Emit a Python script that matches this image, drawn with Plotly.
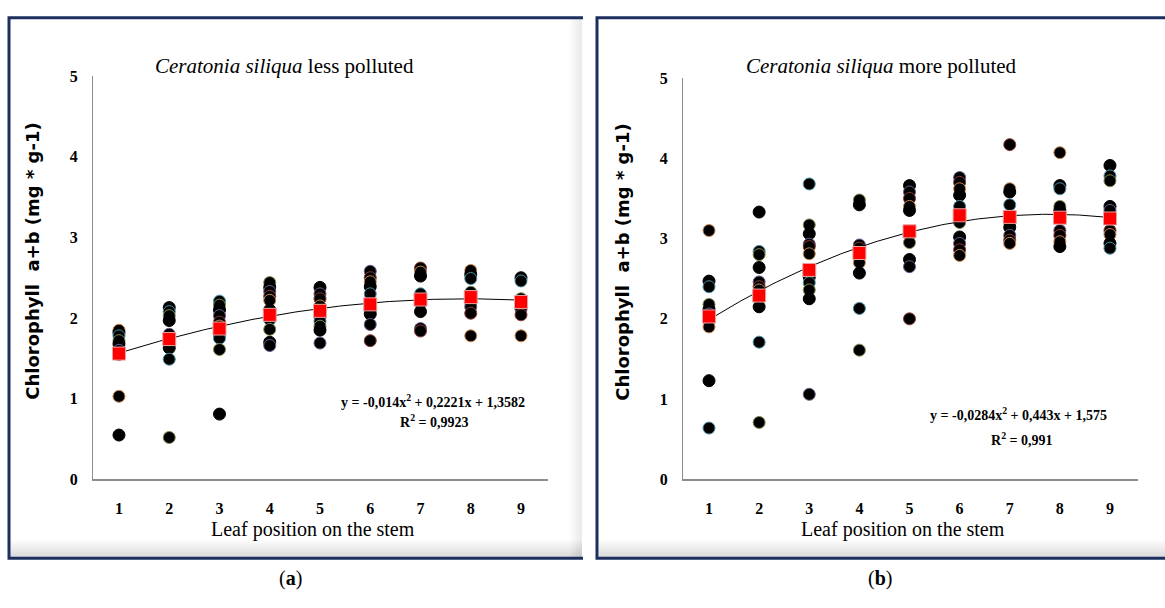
import plotly.graph_objects as go
import numpy as np

W, H = 1165, 608

# ---------------- data ----------------
leaf_positions = [1, 2, 3, 4, 5, 6, 7, 8, 9]

less_polluted_points = [
    [1.85, 1.82, 1.78, 1.72, 1.68, 1.60, 1.55, 1.03, 0.55],
    [2.13, 2.08, 2.03, 1.97, 1.80, 1.75, 1.68, 1.63, 1.49, 0.52],
    [2.21, 2.16, 2.10, 2.03, 1.95, 1.90, 1.80, 1.75, 1.61, 0.81],
    [2.44, 2.38, 2.33, 2.27, 2.22, 2.10, 1.98, 1.86, 1.70, 1.66],
    [2.38, 2.30, 2.24, 2.15, 2.02, 1.96, 1.90, 1.85, 1.69],
    [2.58, 2.50, 2.45, 2.39, 2.30, 2.10, 2.05, 1.92, 1.72],
    [2.62, 2.57, 2.52, 2.30, 2.18, 2.08, 1.87, 1.84],
    [2.59, 2.54, 2.49, 2.32, 2.20, 2.14, 2.06, 1.78],
    [2.50, 2.46, 2.24, 2.16, 2.11, 2.04, 1.78],
]
less_polluted_means = [1.56, 1.74, 1.87, 2.04, 2.09, 2.17, 2.23, 2.26, 2.20]
less_polluted_coef = [-0.014, 0.2221, 1.3582]

more_polluted_points = [
    [3.10, 2.47, 2.40, 2.18, 2.12, 2.06, 1.98, 1.90, 1.23, 0.64],
    [3.33, 2.84, 2.80, 2.64, 2.46, 2.40, 2.36, 2.15, 1.71, 0.71],
    [3.68, 3.17, 3.06, 2.93, 2.90, 2.81, 2.52, 2.45, 2.36, 2.25, 1.06],
    [3.48, 3.42, 2.92, 2.88, 2.70, 2.57, 2.13, 1.61],
    [3.66, 3.58, 3.50, 3.40, 3.35, 3.05, 2.95, 2.74, 2.65, 2.00],
    [3.76, 3.70, 3.62, 3.54, 3.40, 3.20, 3.02, 2.94, 2.86, 2.79],
    [4.17, 3.62, 3.58, 3.42, 3.20, 3.14, 3.04, 2.98, 2.94],
    [4.07, 3.66, 3.62, 3.40, 3.35, 3.10, 3.04, 2.96, 2.90],
    [3.91, 3.78, 3.72, 3.40, 3.35, 3.10, 3.05, 2.94, 2.88],
]
more_polluted_means = [2.03, 2.29, 2.61, 2.82, 3.09, 3.29, 3.27, 3.26, 3.25]
more_polluted_coef = [-0.0284, 0.443, 1.575]

y_ticks = [0, 1, 2, 3, 4, 5]

outline_colors = ["#C98A55", "#000000", "#4A8FA3", "#7E8C50", "#000000", "#6E5A8C", "#8A3A36"]


def px(x):
    return x / W


def py(y):
    return 1 - y / H


fig = go.Figure()

panels = [
    dict(pts=less_polluted_points, means=less_polluted_means, coef=less_polluted_coef,
         xa="x", ya="y"),
    dict(pts=more_polluted_points, means=more_polluted_means, coef=more_polluted_coef,
         xa="x2", ya="y2"),
]

for p in panels:
    xs, ys, lc = [], [], []
    for i, col in enumerate(p["pts"]):
        for j, v in enumerate(col):
            xs.append(leaf_positions[i])
            ys.append(v)
            lc.append(outline_colors[(i + j) % len(outline_colors)])
    fig.add_trace(go.Scatter(
        x=xs, y=ys, mode="markers", xaxis=p["xa"], yaxis=p["ya"],
        marker=dict(size=12, color="#000000", line=dict(color=lc, width=1)),
        showlegend=False, hoverinfo="skip"))
    xf = np.linspace(leaf_positions[0], leaf_positions[-1], 120)
    yf = np.polyval(p["coef"], xf)
    fig.add_trace(go.Scatter(
        x=xf, y=yf, mode="lines", xaxis=p["xa"], yaxis=p["ya"],
        line=dict(color="#000000", width=1), showlegend=False, hoverinfo="skip"))
    fig.add_trace(go.Scatter(
        x=leaf_positions, y=p["means"], mode="markers", xaxis=p["xa"], yaxis=p["ya"],
        marker=dict(symbol="square", size=13, color="#FF0000",
                    line=dict(color="#E9A3A3", width=1)),
        showlegend=False, hoverinfo="skip"))

tickfont = dict(family="Liberation Serif", size=16, color="#000000")
common_x = dict(tickmode="array", tickvals=leaf_positions,
                ticktext=[f"<b>{v}</b>" for v in leaf_positions],
                showgrid=False, zeroline=False, showline=True, linecolor="#8c8c8c",
                linewidth=2, ticks="", tickfont=tickfont, ticklabelstandoff=13,
                fixedrange=True)
common_y = dict(tickmode="array", tickvals=y_ticks,
                ticktext=[f"<b>{v}</b>" for v in y_ticks],
                range=[0, 5], showgrid=False, zeroline=False, showline=True,
                linecolor="#8c8c8c", linewidth=1, ticks="", tickfont=tickfont,
                ticklabelstandoff=11, fixedrange=True)

fig.update_layout(
    width=W, height=H, margin=dict(l=0, r=0, t=0, b=0),
    paper_bgcolor="#ffffff", plot_bgcolor="rgba(0,0,0,0)",
    xaxis=dict(domain=[px(93), px(548)], range=[0.483, 9.537], anchor="y", **common_x),
    yaxis=dict(domain=[py(485), py(70)], anchor="x", **common_y),
    xaxis2=dict(domain=[px(683), px(1138)], range=[0.481, 9.559], anchor="y2", **common_x),
    yaxis2=dict(domain=[py(485), py(72)], anchor="x2", **common_y),
)

navy = "#1c2f5f"
shapes = []
# soft shadows inside frames
for (x0, x1) in [(8, 582), (597, 1165)]:
    for k in range(6):
        shapes.append(dict(type="rect", xref="paper", yref="paper",
                           x0=px(x0 + 2), x1=px(x1), y0=py(566), y1=py(566 - 3 * (k + 1)),
                           fillcolor="rgba(0,0,0,0.025)", line=dict(width=0), layer="below"))
for k in range(4):
    shapes.append(dict(type="rect", xref="paper", yref="paper",
                       x0=px(582 - 3 * (k + 1)), x1=px(582), y0=py(566), y1=py(11),
                       fillcolor="rgba(0,0,0,0.02)", line=dict(width=0), layer="below"))
# frames
shapes.append(dict(type="path", xref="paper", yref="paper",
                   path=f"M {px(583)},{py(10)} L {px(9)},{py(10)} L {px(9)},{py(566)} L {px(583)},{py(566)}",
                   line=dict(color=navy, width=3)))
shapes.append(dict(type="path", xref="paper", yref="paper",
                   path=f"M {px(1166)},{py(10)} L {px(597)},{py(10)} L {px(597)},{py(566)} L {px(1166)},{py(566)}",
                   line=dict(color=navy, width=3)))
fig.update_layout(shapes=shapes)

serif = "Liberation Serif"
ann = []
ann.append(dict(x=px(284), y=py(60), text="<i>Ceratonia siliqua</i> less polluted",
                font=dict(family=serif, size=21, color="#000")))
ann.append(dict(x=px(881), y=py(60), text="<i>Ceratonia siliqua</i> more polluted",
                font=dict(family=serif, size=21, color="#000")))
for xc in (33, 623):
    ann.append(dict(x=px(xc), y=py(261), text="<b>Chlorophyll  a+b (mg * g-1)</b>",
                    textangle=-90, font=dict(family="DejaVu Sans", size=18, color="#000")))
ann.append(dict(x=px(313), y=py(537), text="Leaf position on the stem",
                font=dict(family=serif, size=20, color="#000")))
ann.append(dict(x=px(903), y=py(537), text="Leaf position on the stem",
                font=dict(family=serif, size=20, color="#000")))
ann.append(dict(x=px(433), y=py(404),
                text="<b>y = -0,014x<sup>2</sup> + 0,2221x + 1,3582</b>",
                font=dict(family=serif, size=14, color="#000")))
ann.append(dict(x=px(434), y=py(425), text="<b>R<sup>2</sup> = 0,9923</b>",
                font=dict(family=serif, size=14, color="#000")))
ann.append(dict(x=px(1018), y=py(418),
                text="<b>y = -0,0284x<sup>2</sup> + 0,443x + 1,575</b>",
                font=dict(family=serif, size=14, color="#000")))
ann.append(dict(x=px(1022), y=py(443), text="<b>R<sup>2</sup> = 0,991</b>",
                font=dict(family=serif, size=14, color="#000")))
ann.append(dict(x=px(290), y=py(587), text="(<b>a</b>)",
                font=dict(family=serif, size=20, color="#000")))
ann.append(dict(x=px(880), y=py(587), text="(<b>b</b>)",
                font=dict(family=serif, size=20, color="#000")))
for a in ann:
    a.update(xref="paper", yref="paper", showarrow=False, xanchor="center", yanchor="middle")
fig.update_layout(annotations=ann)

fig.write_html("out.html", config={"displayModeBar": False})
